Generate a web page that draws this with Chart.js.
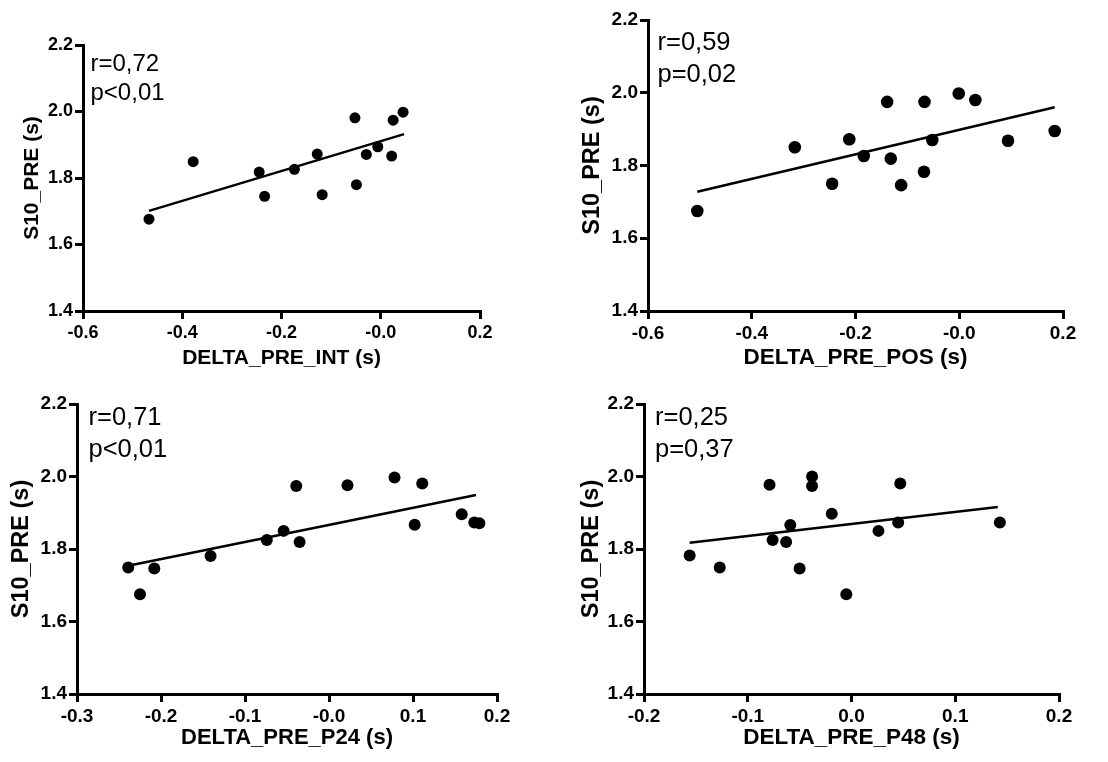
<!DOCTYPE html>
<html>
<head>
<meta charset="utf-8">
<script src="https://cdn.jsdelivr.net/npm/chart.js@4"></script>
<style>
  html, body { margin: 0; padding: 0; background: #fff; }
  #wrap { position: relative; width: 1108px; height: 762px; overflow: hidden; }
  canvas { position: absolute; }
</style>
</head>
<body>
<div id="wrap">
  <canvas id="c1" width="554" height="381" style="left:0;top:0"></canvas>
  <canvas id="c2" width="554" height="381" style="left:554px;top:0"></canvas>
  <canvas id="c3" width="554" height="381" style="left:0;top:381px"></canvas>
  <canvas id="c4" width="554" height="381" style="left:554px;top:381px"></canvas>
</div>
<script>
// y axis is the same everywhere
const yTickValues = [1.4, 1.6, 1.8, 2.0, 2.2];
const yTickLabels = ['1.4', '1.6', '1.8', '2.0', '2.2'];
const yTitle = 'S10_PRE (s)';

// panel 1 - DELTA_PRE_INT
const intX = [-0.467, -0.378, -0.245, -0.234, -0.174, -0.128, -0.118, -0.052, -0.049, -0.029, -0.006, 0.022, 0.025, 0.045];
const intY = [1.676, 1.849, 1.818, 1.745, 1.826, 1.872, 1.750, 1.981, 1.780, 1.871, 1.894, 1.866, 1.974, 1.998];
const intFitX = [-0.467, 0.047];
const intFitY = [1.701, 1.932];
const intTickValues = [-0.6, -0.4, -0.2, 0, 0.2];
const intTickLabels = ['-0.6', '-0.4', '-0.2', '-0.0', '0.2'];
const intStats = ['r=0,72', 'p<0,01'];

// panel 2 - DELTA_PRE_POS
const posX = [-0.505, -0.317, -0.245, -0.212, -0.184, -0.139, -0.132, -0.112, -0.067, -0.068, -0.052, -0.001, 0.031, 0.094, 0.184];
const posY = [1.675, 1.850, 1.750, 1.872, 1.826, 1.975, 1.819, 1.746, 1.975, 1.783, 1.870, 1.998, 1.980, 1.868, 1.895];
const posFitX = [-0.505, 0.184];
const posFitY = [1.728, 1.960];
const posTickValues = [-0.6, -0.4, -0.2, 0, 0.2];
const posTickLabels = ['-0.6', '-0.4', '-0.2', '-0.0', '0.2'];
const posStats = ['r=0,59', 'p=0,02'];

// panel 3 - DELTA_PRE_P24
const p24X = [-0.239, -0.225, -0.208, -0.141, -0.074, -0.054, -0.039, -0.035, 0.022, 0.078, 0.102, 0.111, 0.158, 0.173, 0.179];
const p24Y = [1.749, 1.675, 1.746, 1.781, 1.825, 1.850, 1.974, 1.819, 1.976, 1.997, 1.867, 1.981, 1.896, 1.873, 1.871];
const p24FitX = [-0.239, 0.175];
const p24FitY = [1.754, 1.949];
const p24TickValues = [-0.3, -0.2, -0.1, 0, 0.1, 0.2];
const p24TickLabels = ['-0.3', '-0.2', '-0.1', '-0.0', '0.1', '0.2'];
const p24Stats = ['r=0,71', 'p<0,01'];

// panel 4 - DELTA_PRE_P48
const p48X = [-0.156, -0.127, -0.079, -0.076, -0.063, -0.059, -0.050, -0.038, -0.038, -0.019, -0.005, 0.026, 0.045, 0.047, 0.143];
const p48Y = [1.782, 1.749, 1.977, 1.825, 1.819, 1.866, 1.746, 2.000, 1.974, 1.897, 1.675, 1.850, 1.873, 1.981, 1.873];
const p48FitX = [-0.156, 0.141];
const p48FitY = [1.817, 1.916];
const p48TickValues = [-0.2, -0.1, 0, 0.1, 0.2];
const p48TickLabels = ['-0.2', '-0.1', '0.0', '0.1', '0.2'];
const p48Stats = ['r=0,25', 'p=0,37'];

const FONT = "Arial, 'Liberation Sans', sans-serif";

//stats text in the upper left corner
const statsText = {
  id: 'statsText',
  afterDraw(chart, args, opts) {
    const { ctx, chartArea } = chart;
    ctx.save();
    ctx.fillStyle = '#000';
    ctx.font = `${opts.size}px ${FONT}`;
    ctx.textAlign = 'left';
    ctx.textBaseline = 'alphabetic';
    opts.lines.forEach((t, i) => {
      ctx.fillText(t, chartArea.left + opts.dx, chartArea.top + opts.dy[i]);
    });
    ctx.restore();
  }
};

function toPoints(xs, ys) {
  return xs.map((x, i) => ({ x, y: ys[i] }));
}

function makePanel(id, p) {
  new Chart(document.getElementById(id), {
    type: 'scatter',
    data: {
      datasets: [
        {
          data: toPoints(p.xs, p.ys),
          backgroundColor: '#000',
          borderColor: '#000',
          pointRadius: p.radius,
          pointHoverRadius: p.radius,
          borderWidth: 0,
        },
        {
          data: toPoints(p.fitX, p.fitY),
          showLine: true,
          borderColor: '#000',
          borderWidth: 2.5,
          pointRadius: 0,
          pointHoverRadius: 0,
          fill: false,
        }
      ]
    },
    options: {
      responsive: false,
      animation: false,
      events: [],
      layout: { padding: { top: p.top, right: p.right, left: 0, bottom: 0 } },
      plugins: {
        legend: { display: false },
        tooltip: { enabled: false },
        statsText: { lines: p.stats, size: p.statSize, dx: p.statDx, dy: p.statDy }
      },
      scales: {
        x: {
          type: 'linear',
          min: p.xTicks[0],
          max: p.xTicks[p.xTicks.length - 1],
          afterBuildTicks: s => { s.ticks = p.xTicks.map(v => ({ value: v })); },
          afterFit: s => { s.height = p.xAxisH; },
          ticks: {
            color: '#000', padding: 3, maxRotation: 0, autoSkip: false,
            font: { family: FONT, size: p.tickSize, weight: 'bold' },
            callback: (v, i) => p.xLabels[i]
          },
          grid: { drawOnChartArea: false, drawTicks: true, tickLength: 8, tickColor: '#000', tickWidth: 3, color: '#000', lineWidth: 3 },
          border: { display: true, color: '#000', width: 3 },
          title: {
            display: true, text: p.xTitle, color: '#000',
            font: { family: FONT, size: p.xTitleSize, weight: 'bold' },
            padding: { top: 0, bottom: p.xTitlePad }
          }
        },
        y: {
          type: 'linear',
          min: 1.4,
          max: 2.2,
          afterBuildTicks: s => { s.ticks = yTickValues.map(v => ({ value: v })); },
          afterFit: s => { s.width = p.yAxisW; },
          ticks: {
            color: '#000', padding: 2, autoSkip: false,
            font: { family: FONT, size: p.tickSize, weight: 'bold' },
            callback: (v, i) => yTickLabels[i]
          },
          grid: { drawOnChartArea: false, drawTicks: true, tickLength: 8, tickColor: '#000', tickWidth: 3, color: '#000', lineWidth: 3 },
          border: { display: true, color: '#000', width: 3 },
          title: {
            display: true, text: yTitle, color: '#000',
            font: { family: FONT, size: p.yTitleSize, weight: 'bold' },
            padding: { top: p.yTitlePad, bottom: 0 }
          }
        }
      }
    },
    plugins: [statsText]
  });
}

makePanel('c1', {
  xs: intX, ys: intY, fitX: intFitX, fitY: intFitY,
  xTicks: intTickValues, xLabels: intTickLabels, stats: intStats,
  xTitle: 'DELTA_PRE_INT (s)', radius: 5.5,
  top: 45, right: 74, yAxisW: 83, xAxisH: 70,
  tickSize: 18, xTitleSize: 21, yTitleSize: 21, xTitlePad: 10.4, yTitlePad: 19.4,
  statSize: 24, statDx: 7.5, statDy: [26, 55]
});

makePanel('c2', {
  xs: posX, ys: posY, fitX: posFitX, fitY: posFitY,
  xTicks: posTickValues, xLabels: posTickLabels, stats: posStats,
  xTitle: 'DELTA_PRE_POS (s)', radius: 6.3,
  top: 20, right: 45, yAxisW: 94, xAxisH: 70,
  tickSize: 19, xTitleSize: 22.5, yTitleSize: 23.5, xTitlePad: 9.5, yTitlePad: 24.9,
  statSize: 25.5, statDx: 9.5, statDy: [30, 62]
});

makePanel('c3', {
  xs: p24X, ys: p24Y, fitX: p24FitX, fitY: p24FitY,
  xTicks: p24TickValues, xLabels: p24TickLabels, stats: p24Stats,
  xTitle: 'DELTA_PRE_P24 (s)', radius: 6,
  top: 23, right: 57, yAxisW: 77, xAxisH: 68,
  tickSize: 19, xTitleSize: 22, yTitleSize: 23.5, xTitlePad: 10.5, yTitlePad: 7.9,
  statSize: 25.5, statDx: 11.5, statDy: [21, 53]
});

makePanel('c4', {
  xs: p48X, ys: p48Y, fitX: p48FitX, fitY: p48FitY,
  xTicks: p48TickValues, xLabels: p48TickLabels, stats: p48Stats,
  xTitle: 'DELTA_PRE_P48 (s)', radius: 6,
  top: 23, right: 49, yAxisW: 90, xAxisH: 68,
  tickSize: 19, xTitleSize: 22.5, yTitleSize: 23.5, xTitlePad: 10.5, yTitlePad: 23.9,
  statSize: 25.5, statDx: 11, statDy: [21, 53]
});
</script>
</body>
</html>
